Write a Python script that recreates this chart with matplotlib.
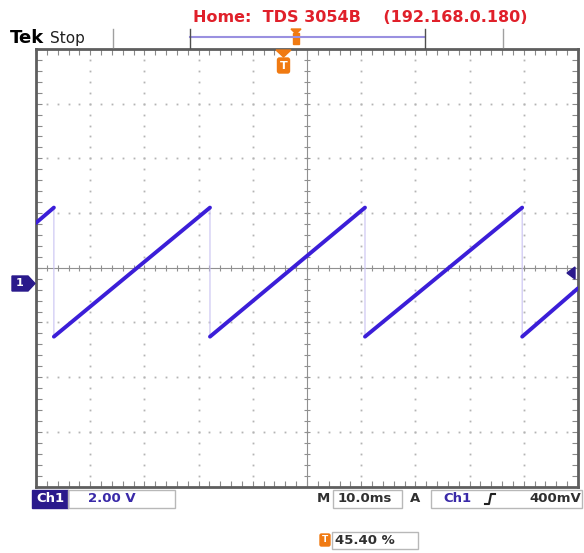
import matplotlib
matplotlib.use("Agg")
import matplotlib.pyplot as plt
from matplotlib.patches import Rectangle, Polygon, FancyBboxPatch

# Waveform vertices (time in ms from screen centre, volts on screen)
t_ms = [-50.0, -46.7, -46.7, -17.9, -17.9, 10.7, 10.7, 39.7, 39.7, 50.0]
v_volts = [1.64, 2.2, -2.52, 2.2, -2.52, 2.2, -2.52, 2.2, -2.52, -0.75]

# Screen settings
time_div = 10.0   # ms/div
volt_div = 2.0    # V/div
n_hdiv = 10
n_vdiv = 8

title = "Home:  TDS 3054B    (192.168.0.180)"
ch_label = "Ch1"
ch_scale = "2.00 V"
time_label = "10.0ms"
trig_level = "400mV"
trig_pos = "45.40 %"

W, H = 584, 553
fig = plt.figure(figsize=(W / 100, H / 100), dpi=100)
fig.patch.set_facecolor("white")

# Graticule axes
x0, x1 = 36, 578
y0, y1 = 49, 486.5
ax = fig.add_axes([x0 / W, 1 - y1 / H, (x1 - x0) / W, (y1 - y0) / H])
xmax = time_div * n_hdiv / 2
ymax = volt_div * n_vdiv / 2
ax.set_xlim(-xmax, xmax)
ax.set_ylim(-ymax, ymax)

grid_col = "#b4b4b4"
major_x = [-xmax + i * time_div for i in range(n_hdiv + 1)]
major_y = [-ymax + i * volt_div for i in range(n_vdiv + 1)]
minor_x = [-xmax + i * time_div / 5 for i in range(n_hdiv * 5 + 1)]
minor_y = [-ymax + i * volt_div / 5 for i in range(n_vdiv * 5 + 1)]

# Dotted grid lines
for gx in major_x[1:-1]:
    if gx == 0:
        continue
    ax.plot([gx] * len(minor_y), minor_y, ls="none", marker="s", ms=1.3,
            color=grid_col, mew=0)
for gy in major_y[1:-1]:
    if gy == 0:
        continue
    ax.plot(minor_x, [gy] * len(minor_x), ls="none", marker="s", ms=1.3,
            color=grid_col, mew=0)

# Centre cross with tick marks
ax.axhline(0, color="#909090", lw=0.8)
ax.axvline(0, color="#909090", lw=0.8)
ax.plot(minor_x, [0] * len(minor_x), ls="none", marker="|", ms=5,
        color="#909090", mew=0.8)
ax.plot([0] * len(minor_y), minor_y, ls="none", marker="_", ms=5,
        color="#909090", mew=0.8)

# Border ticks
ax.set_xticks(major_x)
ax.set_yticks(major_y)
ax.set_xticks(minor_x, minor=True)
ax.set_yticks(minor_y, minor=True)
ax.tick_params(which="both", direction="in", length=4, width=0.8,
               color="#8a8a8a", top=True, right=True,
               labelbottom=False, labelleft=False)
for sp in ax.spines.values():
    sp.set_color("#5e5e5e")
    sp.set_linewidth(2)

# Waveform: faint falling edges, bold ramps
ax.plot(t_ms, v_volts, color="#c9c2f2", lw=0.8, zorder=3)
for i in range(0, len(t_ms), 2):
    ax.plot(t_ms[i:i + 2], v_volts[i:i + 2], color="#3b1ed8", lw=2.8,
            solid_capstyle="round", zorder=4)

# Overlay in pixel coordinates for the scope decorations
ov = fig.add_axes([0, 0, 1, 1], zorder=5)
ov.set_xlim(0, W)
ov.set_ylim(H, 0)
ov.axis("off")
ov.patch.set_alpha(0)

red = "#e0202a"
orange = "#f07a12"
navy = "#2a1a8c"
blue_txt = "#3a2aa8"
box_col = "#b8b8b8"

ov.text(193, 17, title, color=red, fontsize=11.5, fontweight="bold",
        ha="left", va="center", family="DejaVu Sans")
ov.text(10, 38, "Tek", color="black", fontsize=13, fontweight="bold",
        ha="left", va="center")
ov.text(50, 38, "Stop", color="#202020", fontsize=11, ha="left", va="center")

# Record bar
ov.plot([113, 113], [29, 47], color="#a0a0a0", lw=1)
ov.plot([503, 503], [29, 47], color="#a0a0a0", lw=1)
ov.plot([190, 425], [37, 37], color="#9a90e0", lw=1.5)
ov.plot([190, 190], [29, 48], color="#505050", lw=1)
ov.plot([425, 425], [29, 48], color="#505050", lw=1)
ov.add_patch(Rectangle((293, 33), 6, 11, color=orange))
ov.add_patch(Polygon([[291, 29], [301, 29], [296, 34]], color=orange))

# Trigger position marker on graticule
ov.add_patch(Polygon([[276, 50], [291, 50], [283.5, 57]], color=orange))
ov.add_patch(FancyBboxPatch((277.5, 58), 12, 15, boxstyle="round,pad=0,rounding_size=2",
                            color=orange))
ov.text(283.5, 66, "T", color="white", fontsize=8, fontweight="bold",
        ha="center", va="center")

# Channel ground marker
ov.add_patch(Polygon([[12, 276], [28, 276], [35, 283.5], [28, 291], [12, 291]],
                     color=navy))
ov.text(20, 283.5, "1", color="white", fontsize=8, fontweight="bold",
        ha="center", va="center")

# Trigger level marker
ov.add_patch(Polygon([[575, 267], [575, 279], [567, 273]], color=navy))

# Bottom readouts
ov.add_patch(Rectangle((32, 490), 36, 18, color=navy))
ov.text(50, 499, ch_label, color="white", fontsize=9.5, fontweight="bold",
        ha="center", va="center")
ov.add_patch(Rectangle((68, 490), 107, 18, fill=False, ec=box_col, lw=1))
ov.text(88, 499, ch_scale, color=blue_txt, fontsize=9.5, fontweight="bold",
        ha="left", va="center")

ov.text(323, 499, "M", color="#303030", fontsize=9.5, fontweight="bold",
        ha="center", va="center")
ov.add_patch(Rectangle((333, 490), 69, 18, fill=False, ec=box_col, lw=1))
ov.text(338, 499, time_label, color="#303030", fontsize=9.5, fontweight="bold",
        ha="left", va="center")
ov.text(415, 499, "A", color="#303030", fontsize=9.5, fontweight="bold",
        ha="center", va="center")
ov.add_patch(Rectangle((431, 490), 151, 18, fill=False, ec=box_col, lw=1))
ov.text(443, 499, ch_label, color=blue_txt, fontsize=9.5, fontweight="bold",
        ha="left", va="center")
ov.plot([485, 489, 491, 495], [504, 504, 494, 494], color="#202020", lw=1.5)
ov.text(581, 499, trig_level, color="#303030", fontsize=9.5, fontweight="bold",
        ha="right", va="center")

ov.add_patch(FancyBboxPatch((320, 534), 10, 12, boxstyle="round,pad=0,rounding_size=1.5",
                            color=orange))
ov.text(325, 540, "T", color="white", fontsize=6.5, fontweight="bold",
        ha="center", va="center")
ov.add_patch(Rectangle((332, 532), 86, 17, fill=False, ec=box_col, lw=1))
ov.text(335, 540.5, trig_pos, color="#303030", fontsize=9.5, fontweight="bold",
        ha="left", va="center")

fig.savefig("out.png", dpi=100)
